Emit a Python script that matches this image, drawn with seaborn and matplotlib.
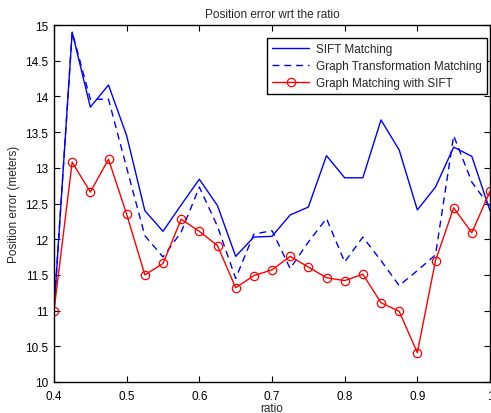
import numpy as np
import pandas as pd
import matplotlib
matplotlib.use("Agg")
import matplotlib.pyplot as plt
from matplotlib.ticker import FuncFormatter
import seaborn as sns

ratio = [0.4, 0.425, 0.45, 0.475, 0.5, 0.525, 0.55, 0.575, 0.6, 0.625, 0.65, 0.675, 0.7,
         0.725, 0.75, 0.775, 0.8, 0.825, 0.85, 0.875, 0.9, 0.925, 0.95, 0.975, 1.0]
sift = [11.0, 14.9, 13.85, 14.16, 13.45, 12.40, 12.11, 12.48, 12.84, 12.47, 11.76, 12.03, 12.04,
        12.34, 12.45, 13.17, 12.86, 12.86, 13.67, 13.25, 12.41, 12.73, 13.29, 13.16, 12.40]
gtm = [11.0, 14.9, 13.96, 13.96, 13.0, 12.05, 11.75, 12.1, 12.73, 12.18, 11.45, 12.07, 12.12,
       11.59, 11.96, 12.29, 11.68, 12.03, 11.70, 11.35, 11.56, 11.78, 13.45, 12.8, 12.45]
gms = [11.0, 13.08, 12.66, 13.12, 12.35, 11.5, 11.66, 12.28, 12.11, 11.91, 11.32, 11.49, 11.57,
       11.76, 11.61, 11.46, 11.42, 11.51, 11.11, 10.99, 10.41, 11.70, 12.44, 12.09, 12.67]
labels = ["SIFT Matching", "Graph Transformation Matching", "Graph Matching with SIFT"]

sns.set_style("ticks")
plt.rcParams['font.family'] = ['Liberation Sans', 'DejaVu Sans']
plt.rcParams['xtick.direction'] = 'in'
plt.rcParams['ytick.direction'] = 'in'

df = pd.DataFrame({"ratio": ratio, "sift": sift, "gtm": gtm, "gms": gms})

fig = plt.figure(figsize=(4.91, 4.14), dpi=100)
ax = fig.add_axes([54 / 491, 1 - 383 / 414, 436 / 491, 357 / 414])

sns.lineplot(data=df, x="ratio", y="sift", ax=ax, color="#0000ff", lw=1.0, label=labels[0])
sns.lineplot(data=df, x="ratio", y="gtm", ax=ax, color="#0000ff", lw=1.0, label=labels[1],
             dashes=False)
ax.lines[-1].set_dashes([5, 3.5])
sns.lineplot(data=df, x="ratio", y="gms", ax=ax, color="#ff0000", lw=1.0, label=labels[2],
             marker="o", markersize=6, markerfacecolor="none", markeredgecolor="#ff0000",
             markeredgewidth=0.9)

ax.set_xlim(0.4, 1.0)
ax.set_ylim(10, 15)
ax.set_xticks([0.4, 0.5, 0.6, 0.7, 0.8, 0.9, 1.0])
ax.set_yticks(np.arange(10, 15.01, 0.5))
fmt = FuncFormatter(lambda v, p: "%g" % round(v, 2))
ax.xaxis.set_major_formatter(fmt)
ax.yaxis.set_major_formatter(fmt)
ax.tick_params(axis="both", which="both", top=True, right=True, length=4, width=0.8,
               labelsize=8.5, pad=4, color="black", labelcolor="black")
ax.tick_params(axis="x", pad=5.5)
for s in ax.spines.values():
    s.set_color("black")
    s.set_linewidth(1.0)

ax.set_title("Position error wrt the ratio", fontsize=8.5, pad=6)
ax.set_xlabel("ratio", fontsize=8.5, labelpad=0)
ax.set_ylabel("Position error (meters)", fontsize=8.5, labelpad=4)

leg = ax.legend(loc="upper right", bbox_to_anchor=(0.993, 0.9636), borderaxespad=0,
                fontsize=8.5, frameon=True, fancybox=False, framealpha=1, edgecolor="black",
                handlelength=3.2, labelspacing=0.45, borderpad=0.4, handletextpad=0.6)
leg.get_frame().set_linewidth(1.0)
for h in leg.get_lines()[1:2]:
    h.set_dashes([5, 3.5])

fig.savefig("out.png", dpi=100)
